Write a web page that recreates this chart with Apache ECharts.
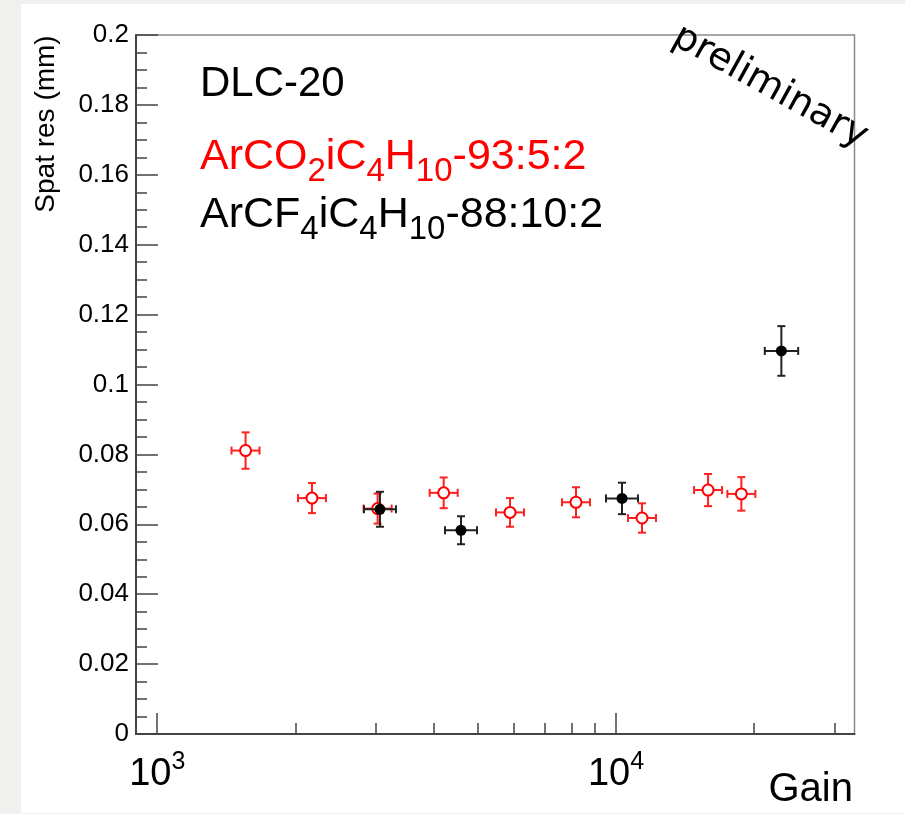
<!DOCTYPE html>
<html>
<head>
<meta charset="utf-8">
<script src="https://cdn.jsdelivr.net/npm/echarts@6/dist/echarts.min.js"></script>
<style>
html,body{margin:0;padding:0;background:#f0f0ee;}
#chart{width:905px;height:814px;}
</style>
</head>
<body>
<div id="chart"></div>
<script>
// ---- data (ArCO2iC4H10 93:5:2, red open circles) ----
const redGain    = [1558, 2174, 3023, 4211, 5875, 8180, 11395, 15873, 18760];
const redGainLo  = [1452, 2027, 2818, 3925, 5476, 7625, 10622, 14796, 17487];
const redGainHi  = [1671, 2332, 3243, 4518, 6303, 8775, 12224, 17028, 20126];
const redRes     = [0.0811, 0.0675, 0.0645, 0.0690, 0.0634, 0.0663, 0.0618, 0.0698, 0.0687];
const redResErr  = [0.0052, 0.0043, 0.0043, 0.0044, 0.0041, 0.0043, 0.0042, 0.0046, 0.0048];
// ---- data (ArCF4iC4H10 88:10:2, black full circles) ----
const blkGain    = [3058, 4593, 10306, 22930];
const blkGainLo  = [2822, 4239, 9511, 21100];
const blkGainHi  = [3314, 4977, 11168, 24950];
const blkRes     = [0.0643, 0.0583, 0.0674, 0.1096];
const blkResErr  = [0.0050, 0.0040, 0.0045, 0.0071];
// ---- axes ----
const xMajorTicks = [1000, 10000];
const xMinorTicks = [2000, 3000, 4000, 5000, 6000, 7000, 8000, 9000, 20000, 30000];
const xTickLabels = {1000: '{b|10}{s|3}', 10000: '{b|10}{s|4}'};

function rows(g, lo, hi, v, e) {
  return g.map((x, i) => [x, v[i], lo[i], hi[i], e[i]]);
}

function makeRender(color, barColor, filled) {
  return function (params, api) {
    const x = api.value(0), y = api.value(1);
    const c = api.coord([x, y]);
    const l = api.coord([api.value(2), y]);
    const r = api.coord([api.value(3), y]);
    const t = api.coord([x, y + api.value(4)]);
    const b = api.coord([x, y - api.value(4)]);
    const cap = 4;
    const st = {stroke: barColor, lineWidth: 2};
    return {
      type: 'group',
      children: [
        {type: 'line', shape: {x1: l[0], y1: c[1], x2: r[0], y2: c[1]}, style: st},
        {type: 'line', shape: {x1: c[0], y1: t[1], x2: c[0], y2: b[1]}, style: st},
        {type: 'line', shape: {x1: l[0], y1: c[1] - cap, x2: l[0], y2: c[1] + cap}, style: st},
        {type: 'line', shape: {x1: r[0], y1: c[1] - cap, x2: r[0], y2: c[1] + cap}, style: st},
        {type: 'line', shape: {x1: c[0] - cap, y1: t[1], x2: c[0] + cap, y2: t[1]}, style: st},
        {type: 'line', shape: {x1: c[0] - cap, y1: b[1], x2: c[0] + cap, y2: b[1]}, style: st},
        filled
          ? {type: 'circle', shape: {cx: c[0], cy: c[1], r: 5.5}, style: {fill: color}}
          : {type: 'circle', shape: {cx: c[0], cy: c[1], r: 5.5}, style: {fill: '#ffffff', stroke: color, lineWidth: 2}}
      ]
    };
  };
}

const FONT = 'Liberation Sans';
function formulaRich(color) {
  return {
    m: {fontFamily: FONT, fontSize: 43, fill: color, lineHeight: 90, verticalAlign: 'middle'},
    s: {fontFamily: FONT, fontSize: 33, fill: color, lineHeight: 34, padding: [30, 0, 0, 0], verticalAlign: 'middle'}
  };
}
const chart = echarts.init(document.getElementById('chart'), null, {renderer: 'canvas'});
const xCommon = {
  type: 'log', logBase: 10, min: 899, max: 33100,
  gridIndex: 0, position: 'bottom',
  splitLine: {show: false}
};
chart.setOption({
  backgroundColor: '#f0f0ee',
  animation: false,
  grid: {
    left: 136, top: 35, right: 50.5, bottom: 80,
    show: true, borderColor: '#8a8a8a', borderWidth: 1.5,
    backgroundColor: 'transparent', containLabel: false, outerBoundsMode: 'none'
  },
  xAxis: [
    Object.assign({}, xCommon, {
      axisLine: {show: true, lineStyle: {color: '#444', width: 2}},
      axisTick: {show: true, inside: true, length: 21, customValues: xMajorTicks, lineStyle: {color: '#444', width: 1.5}},
      axisLabel: {
        show: true, customValues: xMajorTicks, margin: 16,
        formatter: v => xTickLabels[Math.round(v)] || '',
        rich: {
          b: {fontFamily: FONT, fontSize: 38, color: '#000', lineHeight: 44, verticalAlign: 'bottom'},
          s: {fontFamily: FONT, fontSize: 25, color: '#000', lineHeight: 20, verticalAlign: 'top'}
        }
      },
      minorTick: {show: false}
    }),
    Object.assign({}, xCommon, {
      axisLine: {show: false},
      axisTick: {show: true, inside: true, length: 11, customValues: xMinorTicks, lineStyle: {color: '#444', width: 1.5}},
      axisLabel: {show: false},
      minorTick: {show: false}
    })
  ],
  yAxis: {
    type: 'value', min: 0, max: 0.2, interval: 0.02,
    splitLine: {show: false},
    axisLine: {show: true, lineStyle: {color: '#444', width: 2}},
    axisTick: {show: true, inside: true, length: 22, lineStyle: {color: '#444', width: 1.5}},
    minorTick: {show: true, splitNumber: 4, length: 11, lineStyle: {color: '#444', width: 1.5}},
    axisLabel: {show: true, margin: 7, fontFamily: FONT, fontSize: 26, color: '#000', padding: [4, 0, 0, 0]}
  },
  graphic: [
    {type: 'rect', z: -100, shape: {x: 21, y: 4, width: 884, height: 809}, style: {fill: '#ffffff'}, silent: true},
    {type: 'text', x: 46, y: 124, rotation: Math.PI / 2,
     style: {text: 'Spat res (mm)', fontFamily: FONT, fontSize: 28, fill: '#000', align: 'center', verticalAlign: 'middle'}},
    {type: 'text', x: 853, y: 790,
     style: {text: 'Gain', fontFamily: FONT, fontSize: 40, fill: '#000', align: 'right', verticalAlign: 'middle'}},
    {type: 'text', x: 200, y: 84,
     style: {text: 'DLC-20', fontFamily: FONT, fontSize: 42, fill: '#000', align: 'left', verticalAlign: 'middle'}},
    {type: 'text', x: 200, y: 157,
     style: {
       text: '{m|ArCO}{s|2}{m|iC}{s|4}{m|H}{s|10}{m|-93:5:2}',
       align: 'left', verticalAlign: 'middle',
       rich: formulaRich('#ff0000')
     }},
    {type: 'text', x: 200, y: 215,
     style: {
       text: '{m|ArCF}{s|4}{m|iC}{s|4}{m|H}{s|10}{m|-88:10:2}',
       align: 'left', verticalAlign: 'middle',
       rich: formulaRich('#000000')
     }},
    {type: 'text', x: 770, y: 87, rotation: -29 * Math.PI / 180,
     style: {text: 'preliminary', fontFamily: 'DejaVu Sans', fontSize: 38, fill: '#000', align: 'center', verticalAlign: 'middle'}}
  ],
  series: [
    {
      type: 'custom', name: 'ArCO2iC4H10-93:5:2', xAxisIndex: 0, yAxisIndex: 0,
      dimensions: ['gain', 'res', 'lo', 'hi', 'err'], encode: {x: 0, y: 1},
      renderItem: makeRender('#ff0000', '#ff2020', false),
      data: rows(redGain, redGainLo, redGainHi, redRes, redResErr)
    },
    {
      type: 'custom', name: 'ArCF4iC4H10-88:10:2', xAxisIndex: 0, yAxisIndex: 0,
      dimensions: ['gain', 'res', 'lo', 'hi', 'err'], encode: {x: 0, y: 1},
      renderItem: makeRender('#000000', '#222222', true),
      data: rows(blkGain, blkGainLo, blkGainHi, blkRes, blkResErr)
    }
  ]
});
</script>
</body>
</html>
